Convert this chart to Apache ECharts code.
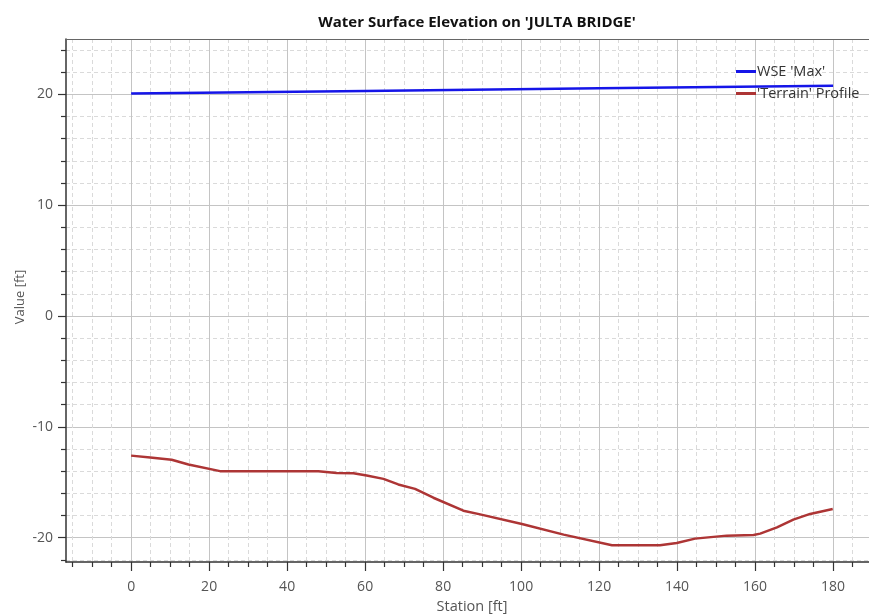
<!DOCTYPE html>
<html>
<head>
<meta charset="utf-8">
<script src="https://cdn.jsdelivr.net/npm/echarts@6/dist/echarts.min.js"></script>
<style>html,body{margin:0;padding:0;background:#fff}#c{width:869px;height:616px}</style>
</head>
<body>
<div id="c"></div>
<script>
// ---- data ----
const wseStation = [0, 60, 120, 180];
const wseValue = [20.08, 20.3, 20.55, 20.78];
const terrainStation = [0, 4.9, 10.4, 14.7, 22.8, 48, 52.7, 57, 60.4, 64.7, 68.5, 72.8, 77.5, 85.2, 89.5, 100.2, 110.9, 123.3, 135.6, 139.9, 144.6, 152.7, 159.6, 161.3, 165.6, 169.8, 174.1, 179.9];
const terrainValue = [-12.6, -12.77, -12.97, -13.4, -14.0, -14.0, -14.17, -14.2, -14.4, -14.7, -15.2, -15.6, -16.4, -17.57, -17.9, -18.77, -19.73, -20.69, -20.69, -20.48, -20.09, -19.82, -19.76, -19.64, -19.07, -18.38, -17.86, -17.41];
const xMajorTicks = [0, 20, 40, 60, 80, 100, 120, 140, 160, 180];
const xMinorTicks = [-15, -10, -5, 5, 10, 15, 25, 30, 35, 45, 50, 55, 65, 70, 75, 85, 90, 95, 105, 110, 115, 125, 130, 135, 145, 150, 155, 165, 170, 175, 185];
const yMajorTicks = [-20, -10, 0, 10, 20];
const yMinorTicks = [-22, -18, -16, -14, -12, -8, -6, -4, -2, 2, 4, 6, 8, 12, 14, 16, 18, 22, 24];
const titleText = "Water Surface Elevation on 'JULTA BRIDGE'";
const xName = 'Station [ft]';
const yName = 'Value [ft]';
const seriesNames = ["WSE 'Max'", "'Terrain' Profile"];

const FONT = '"Open Sans", "Noto Sans", sans-serif';
const xMin = -16.7, xMax = 189.2, yMin = -22.2, yMax = 25;

const chart = echarts.init(document.getElementById('c'), null, {renderer: 'canvas'});
const axisCommon = (extra) => Object.assign({type: 'value', scale: true}, extra);

chart.setOption({
  animation: false,
  backgroundColor: '#fff',
  title: {
    text: titleText, left: 472, top: 10, textAlign: 'center',
    textStyle: {fontFamily: FONT, fontSize: 15, fontWeight: 'bold', color: '#111'}
  },
  legend: {
    orient: 'vertical', left: 731, top: 59, itemWidth: 20, itemHeight: 3, itemGap: 7,
    icon: 'rect',
    textStyle: {fontFamily: FONT, fontSize: 14.5, color: '#333', padding: [0, 0, 0, -4]},
    data: seriesNames
  },
  grid: {
    left: 66, top: 39, right: 0, height: 523,
    show: false, containLabel: false
  },
  graphic: [
    {type: 'text', x: 472, y: 607, style: {text: xName, font: '14.5px ' + FONT, fill: '#555', align: 'center', verticalAlign: 'middle'}},
    {type: 'text', x: 20, y: 297, rotation: Math.PI / 2, style: {text: yName, font: '13px ' + FONT, fill: '#555', align: 'center', verticalAlign: 'middle'}}
  ],
  xAxis: [
    axisCommon({
      min: xMin, max: xMax, position: 'bottom',
      axisLine: {show: true, onZero: false, lineStyle: {color: '#333', width: 1.5}},
      axisTick: {show: true, length: 5, customValues: xMinorTicks, lineStyle: {color: '#333', width: 1.2}},
      axisLabel: {show: false},
      splitLine: {show: true, lineStyle: {color: '#dadada', type: [4, 3], width: 1}}
    }),
    axisCommon({
      min: xMin, max: xMax, position: 'bottom', offset: 0,
      axisLine: {show: false, onZero: false},
      axisTick: {show: true, length: 9, customValues: xMajorTicks, lineStyle: {color: '#333', width: 1.2}},
      axisLabel: {show: true, customValues: xMajorTicks, margin: 18, fontFamily: FONT, fontSize: 14, color: '#555'},
      splitLine: {show: true, lineStyle: {color: '#c4c4c4', type: 'solid', width: 1}}
    }),
    axisCommon({
      min: xMin, max: xMax, position: 'top', offset: 0,
      axisLine: {show: true, onZero: false, lineStyle: {color: '#666', width: 1}},
      axisTick: {show: false}, axisLabel: {show: false}, splitLine: {show: false}
    })
  ],
  yAxis: [
    axisCommon({
      min: yMin, max: yMax, position: 'left',
      axisLine: {show: true, onZero: false, lineStyle: {color: '#333', width: 1.5}},
      axisTick: {show: true, length: 5, customValues: yMinorTicks, lineStyle: {color: '#333', width: 1.2}},
      axisLabel: {show: false},
      splitLine: {show: true, lineStyle: {color: '#dadada', type: [4, 3], width: 1}}
    }),
    axisCommon({
      min: yMin, max: yMax, position: 'left', offset: 0,
      axisLine: {show: false, onZero: false},
      axisTick: {show: true, length: 8, customValues: yMajorTicks, lineStyle: {color: '#333', width: 1.2}},
      axisLabel: {show: true, customValues: yMajorTicks, margin: 13, fontFamily: FONT, fontSize: 14, color: '#555'},
      splitLine: {show: true, lineStyle: {color: '#c4c4c4', type: 'solid', width: 1}}
    })
  ],
  series: [
    {
      name: seriesNames[0], type: 'line', xAxisIndex: 0, yAxisIndex: 0,
      showSymbol: false, symbol: 'none', z: 5,
      itemStyle: {color: '#1515e8'},
      lineStyle: {color: '#1515e8', width: 2.5},
      data: wseStation.map((s, i) => [s, wseValue[i]])
    },
    {
      name: seriesNames[1], type: 'line', xAxisIndex: 0, yAxisIndex: 0,
      showSymbol: false, symbol: 'none', z: 4,
      itemStyle: {color: '#ad3535'},
      lineStyle: {color: '#ad3535', width: 2.5},
      data: terrainStation.map((s, i) => [s, terrainValue[i]])
    }
  ]
});
</script>
</body>
</html>
